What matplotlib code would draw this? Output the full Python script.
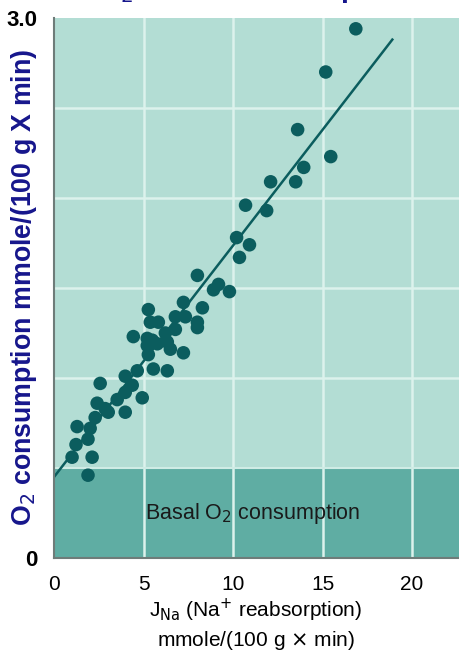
import numpy as np
import matplotlib.pyplot as plt

plt.rcParams['font.family'] = ['Liberation Sans', 'DejaVu Sans']

# Datos
j_na = [16.86, 15.18, 13.61, 15.46, 13.95, 13.50, 12.10, 10.70, 11.88, 10.20,
        10.92, 10.36, 8.01, 9.19, 8.91, 9.80, 7.23, 8.29, 5.27, 6.78,
        7.34, 8.01, 5.38, 5.83, 8.01, 6.78, 6.22, 4.43, 5.21, 5.49,
        5.77, 6.33, 5.21, 6.50, 7.23, 5.27, 4.65, 5.55, 6.33, 3.98,
        4.37, 2.58, 3.98, 3.53, 4.93, 2.41, 2.86, 3.03, 3.98, 2.30,
        1.29, 2.02, 1.90, 1.23, 1.01, 2.13, 1.90]
o2 = [2.94, 2.70, 2.38, 2.23, 2.17, 2.09, 2.09, 1.96, 1.93, 1.78,
      1.74, 1.67, 1.57, 1.52, 1.49, 1.48, 1.42, 1.39, 1.38, 1.34,
      1.34, 1.31, 1.31, 1.31, 1.28, 1.27, 1.25, 1.23, 1.22, 1.21,
      1.19, 1.20, 1.18, 1.16, 1.14, 1.13, 1.04, 1.05, 1.04, 1.01,
      0.96, 0.97, 0.92, 0.88, 0.89, 0.86, 0.83, 0.81, 0.81, 0.78,
      0.73, 0.72, 0.66, 0.63, 0.56, 0.56, 0.46]

# recta de ajuste
fit_x = [0, 18.9]
fit_y = [0.45, 2.88]

basal = 0.5
x_ticks = [0, 5, 10, 15, 20]
y_ticks = [0, 3.0]
y_tick_labels = ['0', '3.0']

teal_light = '#b3ddd4'
teal_basal = '#5fada3'
dot_color = '#0b5d5e'
grid_color = '#dcf2ec'
blue = '#16168c'

fig = plt.figure(figsize=(4.6, 6.56), dpi=100)
ax = fig.add_axes([54/460, 1 - 558/656, 1 - 54/460, 540/656])
ax.set_xlim(0, 22.68)
ax.set_ylim(0, 3.0)
ax.set_facecolor(teal_light)

ax.axhspan(0, basal, color=teal_basal, zorder=0.5)

for gx in [5, 10, 15, 20]:
    ax.axvline(gx, color=grid_color, lw=1.8, zorder=0.8)
for gy in [1.0, 1.5, 2.0, 2.5]:
    ax.axhline(gy, color=grid_color, lw=1.8, zorder=0.8)
ax.axhline(basal, color='#cfece5', lw=1.5, zorder=0.8)

ax.plot(fit_x, fit_y, color=dot_color, lw=1.8, zorder=2)
ax.scatter(j_na, o2, s=95, color=dot_color, edgecolors='none', zorder=3)

ax.text(11.1, 0.25, 'Basal O$_2$ consumption', ha='center', va='center',
        fontsize=15.5, color='#1a1a1a')

for s in ['top', 'right']:
    ax.spines[s].set_visible(False)
for s in ['left', 'bottom']:
    ax.spines[s].set_color('#6e7c79')
    ax.spines[s].set_linewidth(1.5)

ax.set_xticks(x_ticks)
ax.set_xticklabels([str(v) for v in x_ticks], fontsize=15)
ax.set_yticks(y_ticks)
ax.set_yticklabels(y_tick_labels, fontsize=16, fontweight='bold')
ax.tick_params(axis='x', length=0, pad=12)
ax.tick_params(axis='y', length=0, pad=12)

fig.text(0.555, 1 - 610/656, 'J$_{\\mathrm{Na}}$ (Na$^{+}$ reabsorption)',
         ha='center', va='center', fontsize=15)
fig.text(0.557, 1 - 641/656, 'mmole/(100 g $\\times$ min)',
         ha='center', va='center', fontsize=15)

fig.text(24/460, 1 - 287/656, 'O$_2$ consumption mmole/(100 g X min)',
         rotation=90, ha='center', va='center', fontsize=19.3,
         fontweight='bold', color=blue)

# título cortado en la parte superior
fig.text(98/460, 1 + 2/656, 'O$_2$ and Na$^+$ transport', ha='left', va='baseline',
         fontsize=20.5, fontweight='bold', color=blue)

fig.savefig('out.png', dpi=100)
